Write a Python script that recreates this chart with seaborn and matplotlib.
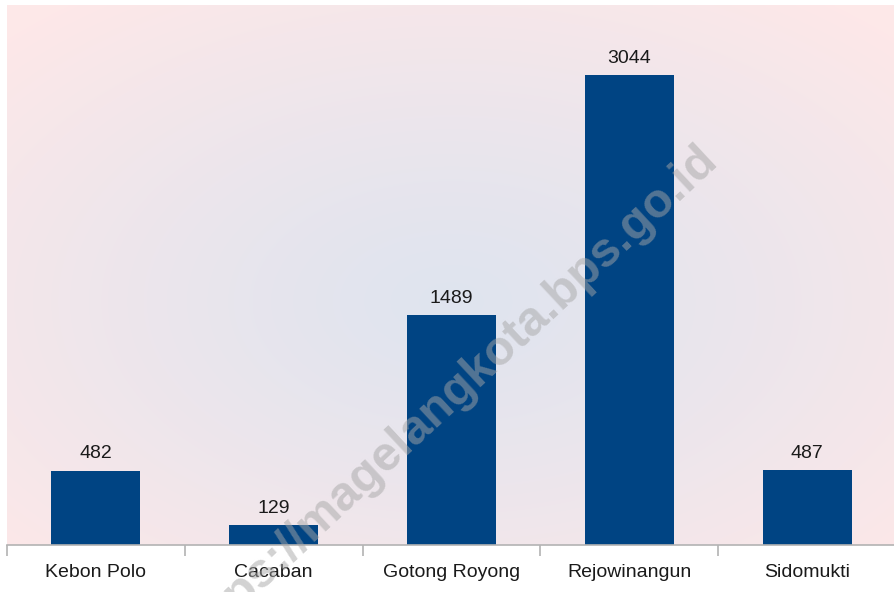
import numpy as np
import pandas as pd
import seaborn as sns
import matplotlib.pyplot as plt

# data
kelurahan = ["Kebon Polo", "Cacaban", "Gotong Royong", "Rejowinangun", "Sidomukti"]
jumlah = [482, 129, 1489, 3044, 487]

df = pd.DataFrame({"kelurahan": kelurahan, "jumlah": jumlah})

sns.set_theme(style="white")
plt.rcParams["font.family"] = ["Liberation Sans", "DejaVu Sans"]

fig = plt.figure(figsize=(8.94, 5.92), dpi=100)
ax = fig.add_axes([7 / 894, 47 / 592, 889 / 894, 540 / 592])

# soft radial background: bluish grey centre, pink corners
gx, gy = np.meshgrid(np.linspace(0, 1, 300), np.linspace(0, 1, 200))
r = np.sqrt(((gx - 0.5) / 0.5) ** 2 + ((gy - 0.55) / 0.5) ** 2) / np.sqrt(2)
r = np.clip(r, 0, 1) ** 1.2
c_mid = np.array([0.875, 0.894, 0.937])
c_out = np.array([0.995, 0.910, 0.910])
bg = c_mid[None, None, :] * (1 - r[..., None]) + c_out[None, None, :] * r[..., None]
ax.imshow(bg, extent=[0, 1, 0, 1], transform=ax.transAxes, aspect="auto",
          interpolation="bilinear", zorder=0)

sns.barplot(data=df, x="kelurahan", y="jumlah", color="#004483", width=0.5,
            saturation=1, linewidth=0, ax=ax, zorder=2)

ax.bar_label(ax.containers[0], labels=[str(v) for v in jumlah], padding=6,
             fontsize=14, color="#1a1a1a")

ax.set_xlim(-0.5, 4.5)
ax.set_ylim(0, 3500)
ax.set_yticks([])
ax.set_xlabel("")
ax.set_ylabel("")
for s in ["top", "right", "left"]:
    ax.spines[s].set_visible(False)
ax.spines["bottom"].set_color("#b3b3b3")
ax.spines["bottom"].set_linewidth(1.2)
ax.spines["bottom"].set_zorder(3)

ax.set_xticks(range(len(kelurahan)))
ax.set_xticklabels(kelurahan, fontsize=14, color="#1a1a1a")
ax.tick_params(axis="x", which="major", length=0, pad=14)
ax.set_xticks(np.arange(-0.5, len(kelurahan)), minor=True)
ax.tick_params(axis="x", which="minor", length=8, width=1.2, color="#b3b3b3",
               bottom=True)

# watermark over everything, running off the bottom edge as in the source
fig.text(0.501, 0.328, "https://magelangkota.bps.go.id", fontsize=35,
         fontweight="bold", color="#a6a6a6", alpha=0.5,
         rotation=43, ha="center", va="center", zorder=10)

fig.savefig("out.png", dpi=100, facecolor="white")
